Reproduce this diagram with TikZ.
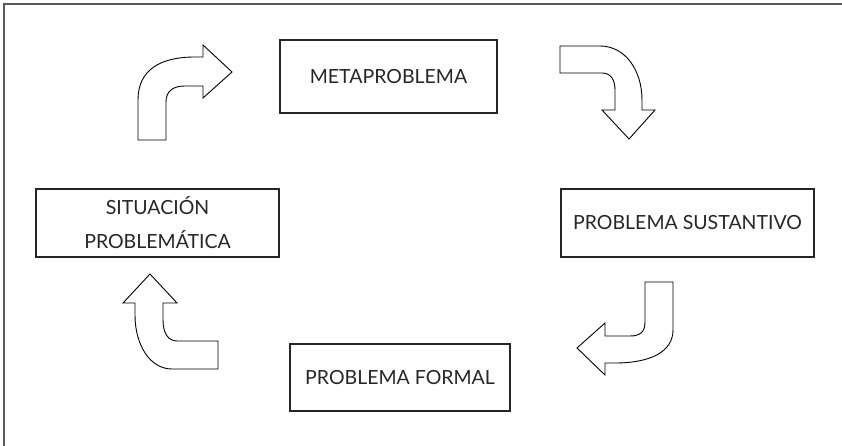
\documentclass[tikz,border=0pt]{standalone}
\usepackage{fontspec}
\setmainfont{Lato}
\begin{document}
\begin{tikzpicture}[x=1pt,y=-1pt,
  box/.style={draw=black!85,line width=1.1pt,rectangle,inner sep=0pt,text=black!85,font=\fontsize{19.5}{34}\selectfont,align=center},
  blockarrow/.style={draw=black,line width=0.9pt,line join=miter,fill=white},
  frame/.style={draw=black!65,line width=1.6pt}]
\useasboundingbox (0,0) rectangle (842,446);
\draw[frame] (4,447) -- (4,4) -- (843,4);
% boxes
\node[box,minimum width=217pt,minimum height=73pt] (meta) at (388.5,76.5) {METAPROBLEMA};
\node[box,minimum width=243pt,minimum height=68pt] (sit) at (157.5,223) {SITUACIÓN\\PROBLEMÁTICA};
\node[box,minimum width=253pt,minimum height=68pt] (sust) at (687.5,223) {PROBLEMA SUSTANTIVO};
\node[box,minimum width=220pt,minimum height=67pt] (formal) at (400,377.5) {PROBLEMA FORMAL};
% block arrows
\draw[blockarrow] (138,140) -- (138,100) .. controls (138,70) and (160,57) .. (195,57) -- (203,57) -- (203,45) -- (232,72) -- (203,98) -- (203,86) -- (185,86) .. controls (172,86) and (166,92) .. (166,102) -- (166,140) -- cycle;
\draw[blockarrow] (560,46) -- (600,46) .. controls (625,46) and (642,70) .. (642,100) -- (642,110) -- (655,110) -- (629,139) -- (602,110) -- (615,110) -- (615,90) .. controls (615,80) and (611,73) .. (602,73) -- (560,73) -- cycle;
\draw[blockarrow] (645,282) -- (673,282) -- (673,330) .. controls (673,352) and (650,363) .. (615,363) -- (605,363) -- (605,375) -- (577,348) -- (605,323) -- (605,336) -- (630,336) .. controls (640,336) and (645,332) .. (645,322) -- cycle;
\draw[blockarrow] (218,341) -- (218,369) -- (172,369) .. controls (150,369) and (135,345) .. (135,315) -- (135,303) -- (123,303) -- (150,274) -- (177,303) -- (163,303) -- (163,320) .. controls (163,333) and (168,341) .. (177,341) -- cycle;
\end{tikzpicture}
\end{document}
